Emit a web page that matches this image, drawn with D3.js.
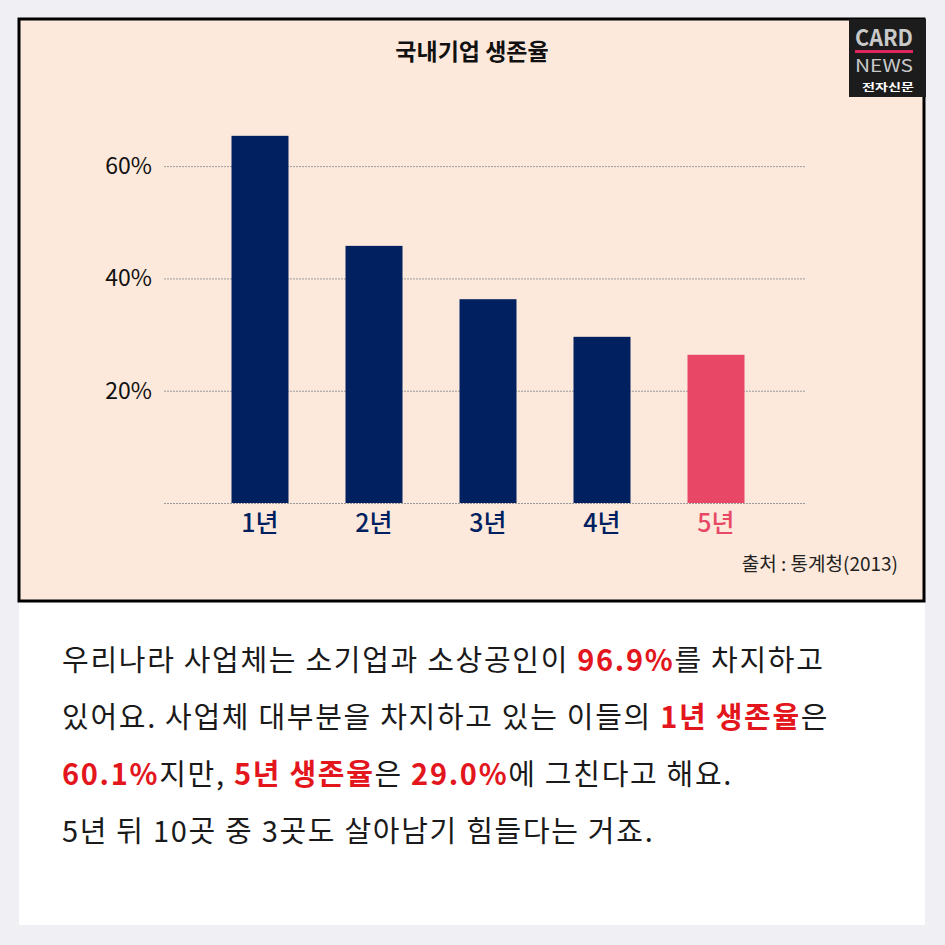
<!DOCTYPE html>
<html><head><meta charset="utf-8">
<script src="https://cdn.jsdelivr.net/npm/d3@7"></script>
<style>
html,body{margin:0;padding:0;background:#f0eff4;}
svg{display:block;}
text{font-family:"Noto Sans CJK KR","Noto Sans",sans-serif;}
</style></head>
<body>
<svg id="c" width="945" height="945"></svg>
<script>
const title = "국내기업 생존율";
const categories = ["1년", "2년", "3년", "4년", "5년"];
const values = [65.4, 45.8, 36.3, 29.6, 26.4];
const highlightIndex = 4;
const gridTicks = [0, 20, 40, 60];
const tickLabels = ["", "20%", "40%", "60%"];
const source = "출처 : 통계청(2013)";
const bodyLines = [
  [["우리나라 사업체는 소기업과 소상공인이 ", false], ["96.9%", true], ["를 차지하고", false]],
  [["있어요. 사업체 대부분을 차지하고 있는 이들의 ", false], ["1년 생존율", true], ["은", false]],
  [["60.1%", true], ["지만, ", false], ["5년 생존율", true], ["은 ", false], ["29.0%", true], ["에 그친다고 해요.", false]],
  [["5년 뒤 10곳 중 3곳도 살아남기 힘들다는 거죠.", false]]
];

const svg = d3.select("#c");
const NAVY = "#002060", PINK = "#e84866", RED = "#e3161d";

// panels
svg.append("rect").attr("x", 19).attr("y", 19).attr("width", 906).attr("height", 906).attr("fill", "#ffffff");
svg.append("rect").attr("x", 19).attr("y", 19).attr("width", 905).attr("height", 582)
  .attr("fill", "#fde9db").attr("stroke", "#000").attr("stroke-width", 3);

// scales
const x = d3.scaleBand().domain(categories).range([203, 773]).paddingInner(0.5).paddingOuter(0.25);
const y = d3.scaleLinear().domain([0, 70]).range([503, 110]);

// grid
const g = svg.append("g");
g.selectAll("line.grid").data(gridTicks).join("line")
  .attr("x1", 164).attr("x2", 806)
  .attr("y1", d => y(d) + 0.5).attr("y2", d => y(d) + 0.5)
  .attr("stroke", "#9a9a9a").attr("stroke-width", 1).attr("stroke-dasharray", "2,1");

// y labels
g.selectAll("text.yl").data(gridTicks).join("text")
  .attr("x", 152).attr("y", d => y(d)).attr("dy", "0.35em")
  .attr("text-anchor", "end").attr("font-size", 23).attr("fill", "#111")
  .text((d, i) => tickLabels[i]);

// bars
g.selectAll("rect.bar").data(values).join("rect")
  .attr("x", (d, i) => x(categories[i])).attr("width", x.bandwidth())
  .attr("y", d => y(d)).attr("height", d => y(0) - y(d))
  .attr("fill", (d, i) => i === highlightIndex ? PINK : NAVY);

// x labels
g.selectAll("text.xl").data(categories).join("text")
  .attr("x", d => x(d) + x.bandwidth() / 2).attr("y", 532)
  .attr("text-anchor", "middle").attr("font-size", 25).attr("font-weight", 500)
  .attr("fill", (d, i) => i === highlightIndex ? PINK : NAVY)
  .text(d => d);

// title
svg.append("text").attr("x", 472).attr("y", 60).attr("text-anchor", "middle")
  .attr("font-size", 23).attr("font-weight", 700).attr("fill", "#111").text(title);

// source
svg.append("text").attr("x", 898).attr("y", 571).attr("text-anchor", "end")
  .attr("font-size", 19).attr("fill", "#222").text(source);

// logo
const lg = svg.append("g");
lg.append("rect").attr("x", 849).attr("y", 19).attr("width", 77).attr("height", 78).attr("fill", "#1c1c1c");
lg.append("text").attr("x", 884).attr("y", 46).attr("text-anchor", "middle").attr("font-size", 23)
  .attr("font-weight", 700).attr("fill", "#c9c9c9").attr("font-family", "Liberation Sans, Arial, sans-serif")
  .attr("textLength", 58).attr("lengthAdjust", "spacingAndGlyphs").text("CARD");
lg.append("rect").attr("x", 855).attr("y", 50).attr("width", 58).attr("height", 3).attr("fill", "#e0245e");
lg.append("text").attr("x", 884).attr("y", 72).attr("text-anchor", "middle").attr("font-size", 17)
  .attr("fill", "#c9c9c9").attr("font-family", "Liberation Sans Narrow, Liberation Sans, Arial, sans-serif")
  .attr("textLength", 58).attr("lengthAdjust", "spacingAndGlyphs").text("NEWS");
lg.append("text").attr("x", 888).attr("y", 91).attr("text-anchor", "middle").attr("font-size", 10.5)
  .attr("font-weight", 700).attr("fill", "#ffffff").attr("textLength", 52).attr("lengthAdjust", "spacingAndGlyphs").text("전자신문");

// body text
const baselines = [671, 728, 785, 842];
bodyLines.forEach((segs, li) => {
  const t = svg.append("text").attr("x", 62).attr("y", baselines[li]).attr("font-size", 29)
    .attr("fill", "#1a1a1a").attr("letter-spacing", "1.7px");
  segs.forEach(([s, hl]) => {
    t.append("tspan").text(s).attr("fill", hl ? RED : "#1a1a1a").attr("font-weight", hl ? 700 : 400)
      .style("white-space", "pre");
  });
  t.style("white-space", "pre");
});
</script>
</body></html>
